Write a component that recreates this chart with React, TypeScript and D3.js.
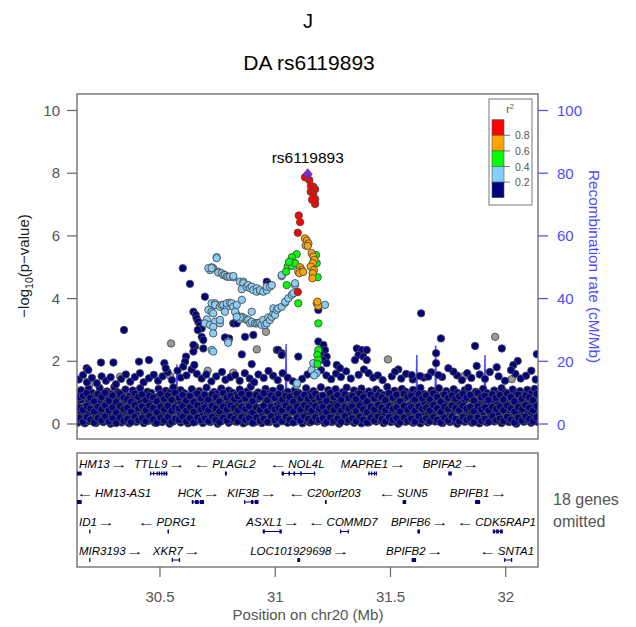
import React from "react";
import * as d3 from "d3";

const W = 636;
const H = 627;
const FONT = "'Liberation Sans', Arial, sans-serif";

const xDomain: [number, number] = [30.14, 32.14];
const xTicks = [30.5, 31, 31.5, 32];
const yTicks = [0, 2, 4, 6, 8, 10];
const recTicks = [0, 20, 40, 60, 80, 100];
const ldLabels = ["0.8", "0.6", "0.4", "0.2"];
const ldColors = ["#FF0000", "#FFA500", "#00FF00", "#87CEFA", "#000080"];

const leadName = "rs6119893";
const leadPos = 31.141;
const leadLogP = 7.97;

// dense band of weak SNPs: "kb from 30 Mb : -log10(p)*100 values"
const bandColumns = `142:4,30,62,95 158:12,41,77,108 174:2,25,55,88 190:9,36,70,112 206:15,47,80,99 222:3,28,60,92 238:10,38,73,115 254:6,33,58,90 270:14,44,79,104 286:1,27,64,96 302:8,39,69,118 318:17,50,83,101 334:5,31,61,93 350:11,42,75,110 366:2,24,57,89 382:13,46,81,107 398:7,35,66,97 414:16,48,72,114 430:3,29,59,91 446:9,40,78,103 462:12,37,67,99 478:4,26,54,86 494:10,43,76,112 510:6,32,63,95 526:15,49,82,106 542:1,34,68,100 558:8,41,74,117 574:13,45,60,92 590:5,30,71,108 606:11,38,80,98 622:2,27,56,90 638:14,47,77,111 654:7,36,65,96 670:16,44,79,105 686:3,33,62,94 702:10,39,73,116 718:6,28,58,88 734:12,46,81,102 750:1,31,66,97 766:9,42,75,113 782:15,37,60,91 798:4,25,70,107 814:11,48,83,100 830:7,34,63,94 846:13,40,76,110 862:2,29,57,89 878:8,43,78,104 894:16,36,67,119 910:5,32,61,93 926:10,45,80,101 942:3,26,55,87 958:14,41,74,112 974:6,35,68,98 990:12,47,82,106 1006:1,30,59,92 1022:9,38,72,115 1038:15,44,64,95 1054:4,28,77,103 1070:11,39,62,90 1086:7,49,81,109 1102:13,33,70,99 1118:2,27,58,88 1134:10,42,75,114 1150:5,36,66,96 1166:16,46,79,105 1182:8,31,60,92 1198:12,40,73,117 1214:3,25,56,86 1230:14,48,84,108 1246:6,34,65,97 1262:9,43,77,111 1278:1,29,61,94 1294:15,37,70,102 1310:7,45,80,116 1326:11,32,59,90 1342:4,41,74,107 1358:13,28,63,98 1374:2,46,78,113 1390:10,35,67,95 1406:5,39,72,104 1422:16,30,57,89 1438:8,44,81,110 1454:12,36,69,100 1470:3,27,62,93 1486:14,47,76,118 1502:6,33,58,91 1518:9,42,79,106 1534:1,38,65,97 1550:15,29,71,112 1566:7,45,83,103 1582:11,34,60,94 1598:4,40,74,109 1614:13,26,63,99 1630:2,48,80,115 1646:10,37,68,96 1662:5,31,57,88 1678:16,43,77,107 1694:8,35,66,101 1710:12,41,82,114 1726:3,28,61,92 1742:14,46,73,105 1758:6,32,59,97 1774:9,39,78,111 1790:1,44,69,100 1806:15,36,64,93 1822:7,27,75,108 1838:11,42,81,116 1854:4,33,58,90 1870:13,47,72,103 1886:2,30,63,96 1902:10,38,79,112 1918:5,45,67,99 1934:16,29,56,89 1950:8,41,76,107 1966:12,34,62,95 1982:3,48,83,114 1998:14,37,70,101 2014:6,31,60,92 2030:9,43,78,110 2046:1,26,65,98 2062:15,40,74,105 2078:7,35,58,93 2094:11,44,81,109 2110:4,33,66,97 2126:13,40,75,112 2140:6,28,61,94`;

const bandColumns2 = `150:20,52,85 166:7,45,90 182:22,58,98 198:14,49,83 214:5,40,72 230:19,55,95 246:11,47,86 262:24,60,100 278:8,43,74 294:18,53,91 310:3,36,70 326:21,57,96 342:10,48,84 358:16,52,79 374:6,39,71 390:23,61,97 406:12,50,87 422:19,56,94 438:9,44,76 454:25,59,90 470:15,51,85 486:4,38,73 502:20,55,96 518:11,46,80 534:22,58,91 550:7,41,77 566:17,53,99 582:13,49,84 598:24,57,92 614:8,42,75 630:19,54,89 646:5,39,70 662:21,60,97 678:12,47,82 694:18,52,93 710:9,44,78 726:23,58,95 742:14,50,86 758:6,40,72 774:20,56,99 790:11,46,84 806:24,59,90 822:16,51,79 838:8,43,88 854:22,55,96 870:13,48,81 886:19,57,94 902:4,37,73 918:21,53,92 934:10,45,85 950:17,58,98 966:7,41,76 982:25,54,91 998:12,47,83 1014:18,52,95 1030:9,44,78 1046:23,59,90 1062:14,49,86 1078:5,40,71 1094:20,56,97 1110:11,46,82 1126:24,60,93 1142:16,51,80 1158:8,42,88 1174:22,57,96 1190:13,48,84 1206:19,55,91 1222:6,39,74 1238:21,53,99 1254:10,45,85 1270:17,58,92 1286:7,43,77 1302:25,54,95 1318:12,50,83 1334:18,56,90 1350:9,41,79 1366:23,59,97 1382:14,47,86 1398:5,38,72 1414:20,55,94 1430:11,46,81 1446:24,61,91 1462:16,52,85 1478:8,44,76 1494:22,57,98 1510:13,49,84 1526:19,53,93 1542:6,40,73 1558:21,58,96 1574:10,45,87 1590:17,54,90 1606:7,42,78 1622:25,56,95 1638:12,48,82 1654:18,52,92 1670:9,43,79 1686:23,60,97 1702:14,50,86 1718:5,39,71 1734:20,55,94 1750:11,47,83 1766:24,59,91 1782:16,51,80 1798:8,44,88 1814:22,58,96 1830:13,49,84 1846:19,54,93 1862:6,41,75 1878:21,57,99 1894:10,46,85 1910:17,53,90 1926:7,42,77 1942:25,55,95 1958:12,48,83 1974:18,56,92 1990:9,44,78 2006:23,59,97 2022:14,50,86 2038:5,40,72 2054:20,54,94 2070:11,47,81 2086:24,60,91 2102:16,52,85 2118:8,43,76 2134:22,57,96`;

const navyTop: [number, number][] = [[30.148,1.42],[30.166,1.56],[30.183,1.33],[30.205,1.47],[30.226,1.30],[30.247,1.52],[30.266,1.38],[30.286,1.49],[30.309,1.27],[30.332,1.44],[30.352,1.58],[30.371,1.35],[30.391,1.50],[30.413,1.62],[30.429,1.33],[30.452,1.46],[30.473,1.57],[30.492,1.38],[30.511,1.52],[30.533,1.65],[30.552,1.40],[30.576,1.70],[30.590,1.48],[30.615,1.55],[30.637,1.74],[30.660,1.60],[30.681,1.45],[30.701,1.58],[30.723,1.36],[30.744,1.52],[30.769,1.66],[30.784,1.41],[30.805,1.49],[30.826,1.56],[30.846,1.38],[30.868,1.62],[30.889,1.45],[30.909,1.33],[30.927,1.58],[30.950,1.47],[30.971,1.69],[30.991,1.54],[31.011,1.40],[31.032,1.62],[31.054,1.48],[31.077,1.36],[31.117,1.44],[31.140,1.58],[31.199,1.72],[31.222,1.55],[31.243,1.43],[31.264,1.61],[31.285,1.50],[31.308,1.68],[31.328,1.45],[31.362,1.57],[31.385,1.74],[31.405,1.62],[31.425,1.48],[31.445,1.55],[31.466,1.40],[31.506,1.52],[31.547,1.45],[31.568,1.60],[31.597,1.42],[31.644,1.48],[31.677,1.65],[31.724,1.50],[31.789,1.55],[31.810,1.40],[31.833,1.62],[31.851,1.47],[31.887,1.58],[31.910,1.44],[31.931,1.66],[31.969,1.52],[31.997,1.38],[32.042,1.60],[32.065,1.45],[32.088,1.54],[32.111,1.70],[32.130,1.42]];

const navyScatter: [number, number][] = [[30.298,1.96],[30.244,1.96],[30.182,1.78],[30.189,1.72],[30.344,3.00],[30.409,1.99],[30.452,2.04],[30.519,1.94],[30.525,1.78],[30.599,4.97],[30.630,4.47],[30.695,4.06],[30.645,3.58],[30.655,3.48],[30.659,3.37],[30.666,3.26],[30.674,3.16],[30.681,3.05],[30.664,3.00],[30.681,2.78],[30.688,2.68],[30.688,2.41],[30.652,2.47],[30.645,2.31],[30.613,2.15],[30.609,1.99],[30.649,1.88],[30.601,1.83],[30.645,2.52],[30.800,2.73],[30.782,2.76],[30.818,3.21],[30.821,3.21],[30.869,2.78],[30.905,2.84],[30.963,4.54],[30.970,4.47],[30.833,3.21],[30.855,2.22],[30.898,1.91],[31.007,2.36],[31.013,2.36],[31.028,2.26],[31.028,2.20],[31.100,2.15],[31.187,2.63],[31.209,2.52],[31.216,2.36],[31.194,2.26],[31.223,2.15],[31.209,2.04],[31.223,1.94],[31.187,3.64],[31.354,2.41],[31.375,2.36],[31.397,2.36],[31.361,2.20],[31.382,2.15],[31.397,2.04],[31.346,2.04],[31.267,1.88],[31.281,1.78],[31.633,3.53],[31.719,2.73],[31.698,2.26],[31.698,1.94],[31.867,2.49],[31.874,1.85],[31.983,2.41],[32.135,2.23],[32.052,2.01],[32.033,1.88],[32.023,1.72],[31.961,1.81],[31.534,1.74],[31.520,1.67],[31.592,1.56],[31.773,1.67],[31.751,1.78],[31.664,1.51],[31.708,1.56],[31.628,1.53]];

const greyPts: [number, number][] = [[30.548,2.57],[30.327,1.51],[30.707,1.70],[30.818,1.64],[30.920,2.38],[30.960,2.94],[31.489,2.06],[31.954,2.78],[31.820,1.53],[30.544,1.53],[30.193,1.24],[32.026,1.43]];

const lightBluePts: [number, number][] = [[30.746,5.32],[30.746,5.29],[30.731,4.97],[30.717,4.91],[30.724,5.00],[30.710,4.97],[30.724,4.97],[30.753,4.86],[30.753,4.83],[30.768,4.81],[30.775,4.75],[30.782,4.75],[30.790,4.70],[30.796,4.70],[30.804,4.70],[30.818,4.68],[30.818,4.72],[30.847,4.54],[30.862,4.54],[30.862,4.49],[30.855,4.30],[30.876,4.38],[30.883,4.43],[30.891,4.33],[30.898,4.38],[30.905,4.27],[30.920,4.33],[30.920,4.22],[30.934,4.25],[30.934,4.27],[30.948,4.22],[30.963,4.27],[30.963,4.38],[30.977,4.38],[30.985,4.43],[31.028,4.72],[31.086,4.43],
[30.703,3.34],[30.695,3.21],[30.717,3.16],[30.724,3.74],[30.724,3.85],[30.739,3.85],[30.739,3.80],[30.760,3.74],[30.768,3.80],[30.775,3.80],[30.790,3.74],[30.790,3.85],[30.804,3.87],[30.811,3.85],[30.818,3.74],[30.782,3.58],[30.833,3.48],[30.833,3.80],[30.826,3.58],[30.840,3.40],[30.847,3.34],[30.855,3.42],[30.855,3.96],[30.869,3.37],[30.876,3.32],[30.883,3.32],[30.891,3.21],[30.898,3.26],[30.898,3.58],[30.912,3.21],[30.920,3.21],[30.927,3.23],[30.934,3.23],[30.941,3.16],[30.948,3.32],[30.956,3.16],[30.963,3.21],[30.970,3.40],[30.977,3.32],[30.985,3.42],[30.992,3.53],[30.992,3.69],[30.999,3.48],[31.007,3.64],[31.013,3.69],[31.028,3.74],[31.043,3.87],[31.043,3.90],[31.057,4.01],[31.072,4.12],[31.079,4.17],[30.710,3.64],[30.724,3.58],[30.731,3.53],[30.746,3.26],[30.739,3.26],[30.760,3.21],[30.731,3.10],[30.760,3.32],[30.847,3.40],[30.833,3.42],[30.731,2.89],[30.724,2.36],[30.731,2.31],[30.796,2.63],[30.796,2.59],[31.216,3.80],[31.158,1.72],[31.180,1.62],[31.165,1.94],[31.093,1.24],[31.086,4.49],[31.163,4.81],[31.028,4.75],[31.169,1.55],[31.095,1.30]];

const greenPts: [number, number][] = [[31.093,5.42],[31.072,5.32],[31.079,5.15],[31.054,5.02],[31.072,5.04],[31.047,4.86],[31.086,5.13],[31.180,5.13],[31.177,5.39],[31.184,4.68],[31.050,4.43],[31.100,3.85],[31.187,3.21],[31.187,2.36],[31.183,2.20],[31.187,2.04],[31.183,1.91],[31.060,5.17]];

const orangePts: [number, number][] = [[31.129,5.92],[31.137,5.85],[31.144,5.76],[31.132,5.69],[31.141,5.68],[31.158,5.45],[31.165,5.34],[31.170,5.23],[31.163,5.13],[31.154,5.02],[31.168,4.91],[31.163,4.81],[31.161,4.65],[31.108,5.00],[31.115,4.91],[31.100,4.86],[31.105,4.81],[31.121,4.85],[31.180,3.85],[31.187,3.77],[31.183,3.90]];

const redPts: [number, number][] = [[31.129,7.87],[31.148,7.78],[31.165,7.57],[31.173,7.49],[31.154,7.41],[31.165,7.31],[31.173,7.17],[31.173,7.02],[31.160,7.15],[31.155,7.59],[31.102,6.65],[31.108,6.44],[31.098,6.10],[31.098,4.21]];

const recombRate: [number, number][] = [[30.14,1.2],[30.18,2.5],[30.22,0.8],[30.26,3.1],[30.30,1.5],[30.34,4.2],[30.38,0.9],[30.42,2.2],[30.46,1.1],[30.50,3.4],[30.54,1.8],[30.570,2.4],[30.573,19],[30.576,3.0],[30.61,1.2],[30.65,0.6],[30.70,0.4],[30.75,0.5],[30.80,0.8],[30.85,0.5],[30.90,0.7],[30.95,1.0],[31.00,0.6],[31.044,2.5],[31.047,25.5],[31.050,3.2],[31.09,1.0],[31.14,0.5],[31.19,0.9],[31.25,2.8],[31.31,1.6],[31.37,3.5],[31.43,2.1],[31.49,4.4],[31.55,2.8],[31.611,3.5],[31.614,22],[31.617,4.2],[31.66,2.0],[31.693,3.6],[31.696,25],[31.699,4.8],[31.75,2.4],[31.80,5.1],[31.85,2.6],[31.907,3.8],[31.910,22],[31.913,4.5],[31.97,2.2],[32.03,5.5],[32.09,3.0],[32.14,4.0]];

const geneNames = ["HM13","TTLL9","PLAGL2","NOL4L","MAPRE1","BPIFA2","HM13-AS1","HCK","KIF3B","C20orf203","SUN5","BPIFB1","ID1","PDRG1","ASXL1","COMMD7","BPIFB6","CDK5RAP1","MIR3193","XKR7","LOC101929698","BPIFB2","SNTA1"];
const geneStrand = ["+","+","-","-","+","+","-","+","+","-","-","+","+","-","+","-","+","-","+","+","+","+","-"];
const geneRow = [0,0,0,0,0,0,1,1,1,1,1,1,2,2,2,2,2,2,3,3,3,3,3];
const geneExons = [
  "30.130-30.160",
  "30.457-30.460,30.470-30.473,30.485-30.488,30.494-30.500,30.505-30.511,30.515-30.521,30.524-30.532",
  "30.782-30.790",
  "31.028-31.038,31.057-31.064,31.079-31.086,31.108-31.115,31.168-31.173",
  "31.404-31.409,31.416-31.421,31.428-31.433,31.436-31.440",
  "31.751-31.766",
  "30.130-30.160",
  "30.638-30.645,30.652-30.668,30.673-30.691",
  "30.865-30.868,30.895-30.905,30.911-30.927",
  "31.216-31.223",
  "31.553-31.568",
  "31.867-31.889",
  "30.193-30.196",
  "30.533-30.539",
  "30.946-30.955,31.018-31.028",
  "31.281-31.284,31.314-31.317",
  "31.617-31.628",
  "31.944-31.954,31.958-31.970,31.975-31.987",
  "30.193-30.194",
  "30.551-30.554,30.582-30.587",
  "31.096-31.108",
  "31.592-31.611",
  "31.993-31.996,32.023-32.026",
];
const omittedNote = ["18 genes", "omitted"];

// layout
const PL = 77, PR = 538, PT = 94, PB = 439;
const GT = 453, GB = 567;
const rowText = [467.5, 496.5, 526, 555];
const rowBar = [473.5, 502, 531.5, 560];
const AX = "#666";
const TX = "#555";
const BLUE = "#4b4bff";
const ARROW_W = 12.5;
const ARROW_GAP = 3.5;

const x = d3.scaleLinear().domain(xDomain).range([PL, PR]);
const y = d3.scaleLinear().domain([0, 10]).range([424, 110.5]);
const yr = d3.scaleLinear().domain([0, 100]).range([424, 110.5]);

function parseBand(s: string): [number, number][] {
  const out: [number, number][] = [];
  s.trim().split(/\s+/).forEach((tok) => {
    const [k, vs] = tok.split(":");
    vs.split(",").forEach((v) => out.push([30 + +k / 1000, +v / 100]));
  });
  return out;
}

let measureCtx: CanvasRenderingContext2D | null = null;
function getCtx() {
  if (!measureCtx) measureCtx = document.createElement("canvas").getContext("2d");
  return measureCtx;
}
function measure(t: string, font: string) {
  const c = getCtx();
  if (!c) return t.length * 6;
  c.font = font;
  return c.measureText(t).width;
}
function inkBounds(t: string, font: string): [number, number] {
  const c = getCtx();
  if (!c) return [0, 8];
  c.font = font;
  const m = c.measureText(t);
  const L = m.actualBoundingBoxLeft || 0;
  const Rt = m.actualBoundingBoxRight || m.width;
  return [L, Rt];
}

const R = 3.7;
function Dots({ pts, fill }: { pts: [number, number][]; fill: string }) {
  return (
    <g>
      {pts.map((d, i) => (
        <circle key={i} cx={x(d[0])} cy={y(d[1])} r={R} fill={fill} stroke="#4d4d4d" strokeWidth={0.9} />
      ))}
    </g>
  );
}

const ARROW_FONT = `11.5px 'Liberation Sans', Arial, sans-serif`;
function Arrow({ x0, yb, dir }: { x0: number; yb: number; dir: string }) {
  const glyph = dir === "+" ? "→" : "←";
  const [L, Rt] = inkBounds(glyph, ARROW_FONT);
  const ink = Math.max(2, L + Rt);
  const sx = ARROW_W / ink;
  const tx = x0 + L * sx;
  return (
    <text transform={`translate(${tx},${yb}) scale(${sx},1)`} fontSize={11.5} fill="#000">
      {glyph}
    </text>
  );
}

export default function App() {
  const band = parseBand(bandColumns).concat(parseBand(bandColumns2));
  const recLine = d3.line<[number, number]>().x((d) => x(d[0])).y((d) => yr(d[1]))(recombRate) || "";
  const geneFont = `italic 11.5px 'Liberation Sans', Arial, sans-serif`;
  const legendY = [119.7, 135.3, 150.9, 166.5, 182.1];
  const legendH = 15.6;

  return (
    <svg width={W} height={H} style={{ display: "block", position: "absolute", left: 0, top: 0 }} fontFamily={FONT}>
      <rect x={0} y={0} width={W} height={H} fill="#fff" />
      <defs>
        <clipPath id="plotClip">
          <rect x={PL} y={PT} width={PR - PL} height={PB - PT} />
        </clipPath>
        <clipPath id="geneClip">
          <rect x={PL} y={GT} width={PR - PL} height={GB - GT} />
        </clipPath>
      </defs>

      {/* titles */}
      <text x={308} y={28} textAnchor="middle" fontSize={20} fill="#000">J</text>
      <text x={309} y={70} textAnchor="middle" fontSize={21} fill="#000">DA rs6119893</text>

      {/* recombination line */}
      <g clipPath="url(#plotClip)">
        <path d={recLine} fill="none" stroke={BLUE} strokeWidth={1.5} />
      </g>

      {/* points */}
      <g clipPath="url(#plotClip)">
        <Dots pts={greyPts} fill="#9a9a9a" />
        <Dots pts={band} fill="#000080" />
        <Dots pts={navyTop} fill="#000080" />
        <Dots pts={navyScatter} fill="#000080" />
        <Dots pts={lightBluePts} fill="#87CEFA" />
        <Dots pts={greenPts} fill="#00FF00" />
        <Dots pts={orangePts} fill="#FFA500" />
        <Dots pts={redPts} fill="#FF0000" />
        <path
          d={`M${x(leadPos)},${y(leadLogP) - 5.5} l4.5,5.5 l-4.5,5.5 l-4.5,-5.5 Z`}
          fill="#7D26CD"
          stroke="#4a4a4a"
          strokeWidth={0.8}
        />
      </g>
      <text x={x(leadPos)} y={y(leadLogP) - 11} textAnchor="middle" fontSize={15.5} fill="#000">{leadName}</text>

      {/* plot frame */}
      <rect x={PL} y={PT} width={PR - PL} height={PB - PT} fill="none" stroke={AX} strokeWidth={1.3} />

      {/* left axis */}
      {yTicks.map((t) => (
        <g key={t}>
          <line x1={PL - 10} x2={PL} y1={y(t)} y2={y(t)} stroke={AX} strokeWidth={1.2} />
          <text x={60} y={y(t) + 5} textAnchor="end" fontSize={15} fill={TX}>{t}</text>
        </g>
      ))}
      <text transform={`translate(29,266) rotate(-90)`} textAnchor="middle" fontSize={15} fill="#222">
        −log<tspan fontSize={10.5} dy={4}>10</tspan><tspan dy={-4}>(p−value)</tspan>
      </text>

      {/* right axis */}
      {recTicks.map((t) => (
        <g key={t}>
          <line x1={PR} x2={PR + 10} y1={yr(t)} y2={yr(t)} stroke={BLUE} strokeWidth={1.2} />
          <text x={557} y={yr(t) + 5.5} textAnchor="start" fontSize={15} fill={BLUE}>{t}</text>
        </g>
      ))}
      <text transform={`translate(588.5,266.5) rotate(90)`} textAnchor="middle" fontSize={15.3} fill={BLUE}>
        Recombination rate (cM/Mb)
      </text>

      {/* legend */}
      <rect x={489} y={99} width={43} height={106} fill="#fff" stroke="#777" strokeWidth={1} />
      <text x={510} y={113} textAnchor="middle" fontSize={10.5} fill={TX}>
        r<tspan fontSize={7.5} dy={-4}>2</tspan>
      </text>
      {ldColors.map((c, i) => (
        <rect key={c} x={492} y={legendY[i]} width={12} height={legendH} fill={c} stroke="#555" strokeWidth={0.6} />
      ))}
      {ldLabels.map((l, i) => (
        <g key={l}>
          <line x1={504} x2={510} y1={legendY[i + 1]} y2={legendY[i + 1]} stroke="#555" strokeWidth={0.8} />
          <text x={515} y={legendY[i + 1] + 4} fontSize={10.5} fill={TX}>{l}</text>
        </g>
      ))}

      {/* gene panel */}
      <rect x={PL} y={GT} width={PR - PL} height={GB - GT} fill="#fff" stroke={AX} strokeWidth={1.3} />
      <g clipPath="url(#geneClip)">
        {geneNames.map((g, i) => {
          const exons = geneExons[i].split(",").map((s) => s.split("-").map(Number));
          const gs = d3.min(exons, (e) => e[0]) as number;
          const ge = d3.max(exons, (e) => e[1]) as number;
          const by = rowBar[geneRow[i]];
          return (
            <g key={g}>
              <line x1={x(gs)} x2={x(ge)} y1={by} y2={by} stroke="#000080" strokeWidth={1} />
              {exons.map((e, j) => (
                <rect key={j} x={x(e[0])} y={by - 2} width={Math.max(1.2, x(e[1]) - x(e[0]))} height={4} fill="#000080" />
              ))}
            </g>
          );
        })}
      </g>
      {geneNames.map((g, i) => {
        const exons = geneExons[i].split(",").map((s) => s.split("-").map(Number));
        const gs = d3.min(exons, (e) => e[0]) as number;
        const ge = d3.max(exons, (e) => e[1]) as number;
        const wName = measure(g, geneFont);
        const w = wName + ARROW_GAP + ARROW_W;
        const cx = x((gs + ge) / 2);
        const left = Math.max(PL + 2, Math.min(PR - 2 - w, cx - w / 2));
        const yb = rowText[geneRow[i]];
        const plus = geneStrand[i] === "+";
        const nameX = plus ? left : left + ARROW_W + ARROW_GAP;
        const arrowX = plus ? left + wName + ARROW_GAP : left;
        return (
          <g key={g}>
            <text x={nameX} y={yb} fontSize={11.5} fontStyle="italic" fill="#000">{g}</text>
            <Arrow x0={arrowX} yb={yb} dir={geneStrand[i]} />
          </g>
        );
      })}
      <text x={553} y={505} fontSize={16} fill={TX}>{omittedNote[0]}</text>
      <text x={553} y={527} fontSize={16} fill={TX}>{omittedNote[1]}</text>

      {/* x axis */}
      {xTicks.map((t) => (
        <g key={t}>
          <line x1={x(t)} x2={x(t)} y1={GB} y2={GB + 10} stroke={AX} strokeWidth={1.2} />
          <text x={x(t)} y={601.5} textAnchor="middle" fontSize={15} fill={TX}>{t}</text>
        </g>
      ))}
      <text x={308} y={620} textAnchor="middle" fontSize={15} fill={TX}>Position on chr20 (Mb)</text>
    </svg>
  );
}
